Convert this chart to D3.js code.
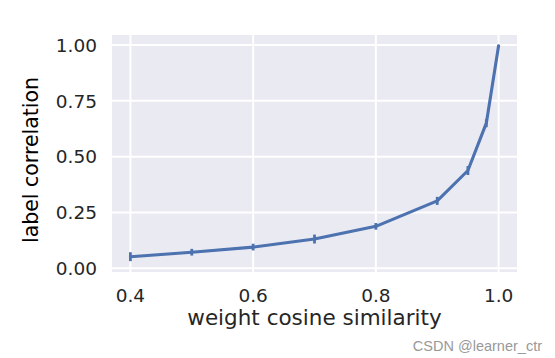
<!DOCTYPE html>
<html><head><meta charset="utf-8">
<script src="https://cdn.jsdelivr.net/npm/d3@7"></script>
<style>body{margin:0;background:#fff}svg{display:block}</style>
</head><body>
<svg id="c" width="555" height="358"></svg>
<script>
const xs = [0.4, 0.5, 0.6, 0.7, 0.8, 0.9, 0.95, 0.98, 1.0];
const ys = [0.052, 0.072, 0.095, 0.131, 0.188, 0.302, 0.438, 0.650, 0.997];
const errs = [0.02, 0.015, 0.015, 0.02, 0.015, 0.018, 0.02, 0.018, 0.003];
const xTicks = [0.4, 0.6, 0.8, 1.0];
const yTicks = [0.0, 0.25, 0.5, 0.75, 1.0];
const xLabel = "weight cosine similarity";
const yLabel = "label correlation";
const watermark = "CSDN @learner_ctr";

const svg = d3.select("#c");
const L = 112, R = 517, T = 35, B = 272;
const x = d3.scaleLinear().domain([0.37, 1.03]).range([L, R]);
const y = d3.scaleLinear().domain([-0.0166, 1.045]).range([B, T]);
const font = "DejaVu Sans, sans-serif";

svg.append("rect").attr("x", L).attr("y", T).attr("width", R - L).attr("height", B - T).attr("fill", "#EAEAF2");

const g = svg.append("g");
g.selectAll(".vx").data(xTicks).join("line")
  .attr("x1", d => x(d)).attr("x2", d => x(d)).attr("y1", T).attr("y2", B)
  .attr("stroke", "#fff").attr("stroke-width", 2);
g.selectAll(".hy").data(yTicks).join("line")
  .attr("y1", d => y(d)).attr("y2", d => y(d)).attr("x1", L).attr("x2", R)
  .attr("stroke", "#fff").attr("stroke-width", 2);

// tick labels
svg.selectAll(".xt").data(xTicks).join("text")
  .attr("x", d => x(d)).attr("y", 302).attr("text-anchor", "middle")
  .attr("font-family", font).attr("font-size", 18.5).attr("fill", "#262626")
  .text(d => d3.format(".1f")(d));
svg.selectAll(".yt").data(yTicks).join("text")
  .attr("x", 97).attr("y", d => y(d)).attr("dy", "0.36em").attr("text-anchor", "end")
  .attr("font-family", font).attr("font-size", 18.5).attr("fill", "#262626")
  .text(d => d3.format(".2f")(d));

// error bars
const color = "#4C72B0";
svg.selectAll(".eb").data(xs).join("line")
  .attr("x1", d => x(d)).attr("x2", d => x(d))
  .attr("y1", (d, i) => y(ys[i] - errs[i])).attr("y2", (d, i) => y(ys[i] + errs[i]))
  .attr("stroke", color).attr("stroke-width", 2.8);

// line
const line = d3.line().x(d => x(d[0])).y(d => y(d[1]));
svg.append("path").datum(xs.map((d, i) => [d, ys[i]]))
  .attr("d", line).attr("fill", "none").attr("stroke", color)
  .attr("stroke-width", 3.1).attr("stroke-linejoin", "round").attr("stroke-linecap", "round");

// axis labels
svg.append("text").attr("x", (L + R) / 2).attr("y", 325).attr("text-anchor", "middle")
  .attr("font-family", font).attr("font-size", 21.5).attr("fill", "#262626").text(xLabel);
svg.append("text").attr("transform", "translate(38,160) rotate(-90)").attr("text-anchor", "middle")
  .attr("font-family", font).attr("font-size", 20.5).attr("fill", "#000").text(yLabel);

svg.append("text").attr("x", 542).attr("y", 351).attr("text-anchor", "end")
  .attr("font-family", "Liberation Sans, Arial, sans-serif").attr("font-size", 14.5)
  .attr("fill", "#999").text(watermark);
</script>
</body></html>
